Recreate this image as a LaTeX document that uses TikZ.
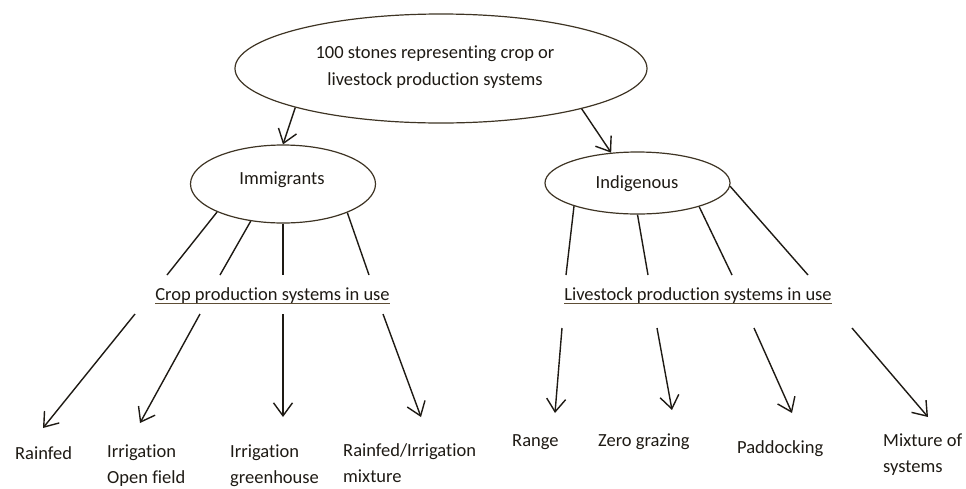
\documentclass[tikz,border=0pt]{standalone}
\usepackage{fontspec}
\setmainfont[Ligatures={NoCommon}]{Carlito}
\usetikzlibrary{shapes.geometric,arrows.meta}
\definecolor{ink}{HTML}{1E1A14}
\definecolor{rim}{HTML}{3E3424}
\definecolor{rule}{HTML}{5E4E36}
\tikzset{
  oval/.style={ellipse,draw=rim,line width=1.2pt,inner sep=0pt},
  txt/.style={inner sep=0pt,text=ink,font=\fontsize{18.5}{26}\selectfont},
  leaf/.style={txt,anchor=base west,align=left},
  link/.style={draw=ink,line width=1.4pt},
  arr/.style={link,-{Straight Barb[length=13pt,width=19pt]}},
  uline/.style={draw=rule,line width=1.2pt}
}
\begin{document}
\begin{tikzpicture}[x=1pt,y=-1pt]
\useasboundingbox (0,0) rectangle (966,488);

% ellipses (multi-line nodes are placed by the baseline of their last line)
\node[oval,minimum width=412pt,minimum height=109pt] (root) at (441,68.5) {};
\node[txt,align=center,anchor=base,font=\fontsize{18.5}{27}\selectfont] (roottext) at (435,85)
  {100 stones representing crop or\\livestock production systems};
\node[oval,minimum width=185pt,minimum height=78pt] (imm) at (283,184) {};
\node[txt,anchor=base] (immtext) at (282,184) {Immigrants};
\node[oval,minimum width=185pt,minimum height=62pt] (ind) at (637.5,183) {};
\node[txt,anchor=base] (indtext) at (637,188) {Indigenous};

% arrows from the root
\draw[arr] (root.195) -- (imm.north);
\draw[arr] (root.344.5) -- (ind.131);

% headings of the two groups
\node[txt,anchor=base] (crop) at (272.5,300) {Crop production systems in use};
\node[txt,anchor=base] (live) at (698,300) {Livestock production systems in use};
\draw[uline] ([yshift=-3.5pt]crop.base west) -- ([yshift=-3.5pt]crop.base east);
\draw[uline] ([yshift=-3.5pt]live.base west) -- ([yshift=-3.5pt]live.base east);

% free ends of the lines above the headings
\coordinate (c1) at (167,275);
\coordinate (c2) at (220,275);
\coordinate (c3) at (283,275);
\coordinate (c4) at (369,275);
\coordinate (l1) at (566,275);
\coordinate (l2) at (648,275);
\coordinate (l3) at (732,275);
\coordinate (l4) at (808,275);
\draw[link] (imm.203.7) -- (c1);
\draw[link] (imm.229.5) -- (c2);
\draw[link] (imm.270) -- (c3);
\draw[link] (imm.336) -- (c4);
\draw[link] (ind.200.1) -- (l1);
\draw[link] (ind.270) -- (l2);
\draw[link] (ind.339.9) -- (l3);
\draw[link] (ind.358.5) -- (l4);

% starts and ends of the arrows below the headings
\coordinate (s1) at (135,314);
\coordinate (s2) at (200,314);
\coordinate (s3) at (283,314);
\coordinate (s4) at (383,314);
\coordinate (t1) at (562,328);
\coordinate (t2) at (657,328);
\coordinate (t3) at (754,328);
\coordinate (t4) at (852,328);
\coordinate (e1) at (43,428);
\coordinate (e2) at (140,423);
\coordinate (e3) at (283,417);
\coordinate (e4) at (421,417);
\coordinate (f1) at (555,413);
\coordinate (f2) at (672,410);
\coordinate (f3) at (792,413);
\coordinate (f4) at (928,417);
\draw[arr] (s1) -- (e1);
\draw[arr] (s2) -- (e2);
\draw[arr] (s3) -- (e3);
\draw[arr] (s4) -- (e4);
\draw[arr] (t1) -- (f1);
\draw[arr] (t2) -- (f2);
\draw[arr] (t3) -- (f3);
\draw[arr] (t4) -- (f4);

% production systems
\node[leaf] (rainfed) at (15,459) {Rainfed};
\node[leaf] (irrop) at (107,483) {Irrigation\\Open field};
\node[leaf] (irrgr) at (230,483) {Irrigation\\greenhouse};
\node[leaf] (mixcrop) at (343,482) {Rainfed/Irrigation\\mixture};
\node[leaf] (range) at (512,446) {Range};
\node[leaf] (zero) at (598,446) {Zero grazing};
\node[leaf] (padd) at (737,453) {Paddocking};
\node[leaf] (mixlive) at (883,472) {Mixture of\\systems};
\end{tikzpicture}
\end{document}
